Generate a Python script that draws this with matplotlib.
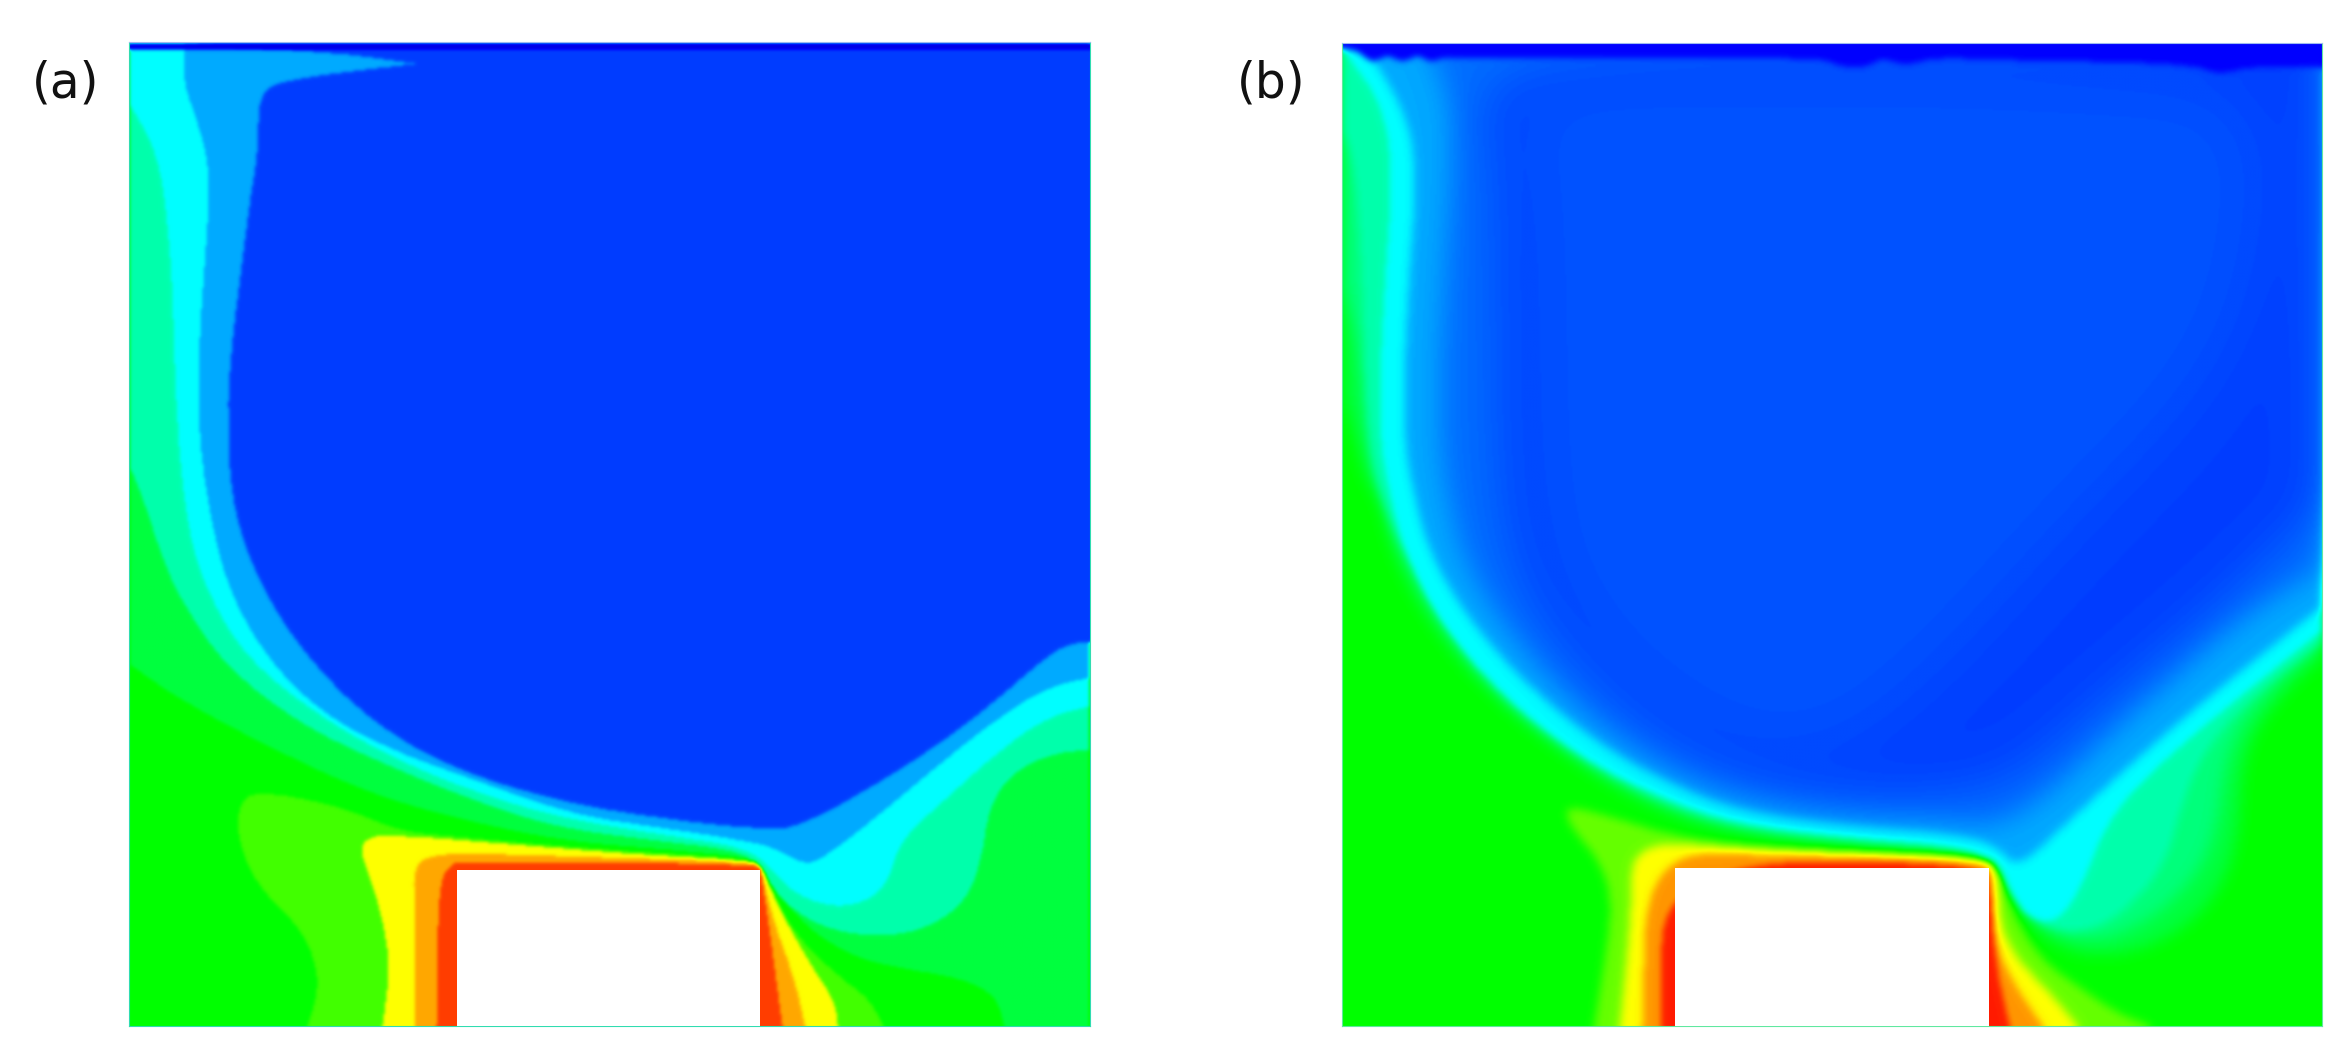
"""Two contour panels (a) and (b), flow past a block in a cavity"""
import matplotlib
matplotlib.use('Agg')
import matplotlib.pyplot as plt
from matplotlib.colors import LinearSegmentedColormap, Normalize
from matplotlib.patches import Rectangle
from matplotlib.path import Path
import numpy as np

WIDTH, HEIGHT = 2347, 1055

# contour outlines, x/y as in the image (y down)
A_XLIM = (86, 727)
A_YLIM = (684, 28)
A_BLOCK = (305, 507, 580)
A_BASE = 0.5
A_SPRING = [(86, 443), (120, 467), (175, 496), (240, 527), (300, 545), (375, 561), (450, 567),
            (500, 572), (515, 583), (530, 612), (565, 637), (600, 646), (640, 652), (665, 664),
            (670, 684), (727, 684), (727, 28), (86, 28)]
A_AQUA = [(86, 311), (95, 332), (107, 370), (120, 400), (150, 445), (200, 483), (250, 507),
          (310, 532), (370, 552), (440, 561), (490, 567), (507, 576), (515, 592), (530, 608),
          (555, 621), (590, 625), (620, 619), (645, 601), (655, 574), (660, 538), (675, 516),
          (700, 503), (727, 500), (727, 28), (86, 28)]
A_CYAN = [(86, 69), (105, 102), (112, 153), (115, 204), (117, 281), (125, 357), (140, 400),
          (165, 440), (210, 476), (260, 505), (320, 530), (380, 547), (450, 558), (495, 565),
          (512, 576), (525, 592), (545, 603), (570, 605), (592, 592), (600, 561), (630, 534),
          (670, 498), (700, 478), (727, 471), (727, 28), (86, 28)]
A_LIGHT = [(122, 28), (122, 56), (132, 82), (140, 115), (137, 166), (132, 230), (132, 293),
           (142, 357), (155, 400), (180, 442), (215, 476), (260, 500), (310, 518), (380, 543),
           (440, 552), (500, 561), (520, 567), (537, 577), (550, 572), (585, 545), (630, 507),
           (670, 476), (700, 458), (727, 452), (727, 28)]
A_BLUE = [(727, 428), (710, 430), (690, 445), (665, 467), (625, 498), (570, 532), (535, 550),
          (515, 554), (440, 546), (370, 534), (300, 512), (250, 483), (210, 445), (178, 400),
          (155, 344), (151, 280), (154, 230), (160, 184), (167, 128), (172, 100), (172, 64),
          (185, 53), (277, 42), (277, 42), (220, 34), (150, 31), (122, 28), (727, 28)]
A_TOP = [(86, 28), (727, 28), (727, 32), (86, 32)]
A_LIME = [(205, 684), (212, 661), (210, 641), (200, 619), (170, 590), (157, 556), (160, 534),
          (172, 528), (210, 534), (240, 543), (265, 554), (300, 558), (400, 567), (500, 573),
          (507, 577), (512, 590), (530, 623), (560, 652), (580, 666), (589, 684)]
A_YELLOW = [(255, 684), (260, 646), (255, 612), (245, 581), (240, 567), (245, 558), (265, 557),
            (350, 564), (425, 570), (500, 574), (509, 579), (515, 596), (530, 625), (545, 650),
            (557, 668), (559, 684)]
A_ORANGE = [(277, 684), (276, 601), (276, 579), (285, 571), (310, 569), (400, 572), (500, 575),
            (508, 579), (515, 612), (530, 652), (537, 684)]
A_RED = [(291, 684), (292, 590), (300, 577), (305, 575), (400, 575), (505, 577), (508, 580),
         (522, 684)]
# value, outline, softness of the edge
A_LAYERS = [(0.4375, A_SPRING, 1), (0.33, A_AQUA, 1), (0.25, A_CYAN, 1), (0.167, A_LIGHT, 1),
            (0.0625, A_BLUE, 1), (-0.04, A_TOP, 1), (0.5625, A_LIME, 1), (0.75, A_YELLOW, 1),
            (0.833, A_ORANGE, 1), (0.9375, A_RED, 1)]

B_XLIM = (895, 1548)
B_YLIM = (684, 29)
B_BLOCK = (1117, 1326, 579)
B_BASE = 0.5
B_EDGE = [(895, 265), (903, 290), (910, 320), (920, 333), (928, 369), (953, 416), (993, 463),
          (1043, 503), (1093, 534), (1143, 552), (1223, 561), (1303, 567), (1326, 572),
          (1338, 590), (1358, 623), (1388, 638), (1428, 635), (1468, 612), (1493, 569),
          (1495, 498), (1528, 456), (1548, 440), (1548, 28), (895, 28)]
B_MINT = [(895, 190), (906, 230), (913, 300), (925, 335), (936, 369), (961, 416), (1000, 463),
          (1050, 503), (1100, 532), (1150, 550), (1228, 559), (1306, 565), (1328, 573),
          (1340, 592), (1362, 617), (1390, 628), (1420, 622), (1455, 597), (1478, 560),
          (1484, 500), (1510, 462), (1548, 428), (1548, 28), (895, 28)]
B_AQUA = [(895, 85), (903, 110), (908, 180), (910, 260), (914, 310), (924, 340), (936, 369),
          (961, 416), (1001, 465), (1052, 505), (1103, 533), (1155, 551), (1230, 560),
          (1308, 566), (1330, 577), (1345, 604), (1365, 620), (1392, 622), (1420, 606),
          (1445, 575), (1455, 535), (1470, 500), (1500, 466), (1548, 428), (1548, 28), (895, 28)]
B_RIDGE = [(895, 32), (903, 44), (920, 67), (929, 111), (922, 200), (919, 289), (927, 333),
           (937, 369), (962, 418), (1003, 465), (1054, 505), (1105, 531), (1157, 549),
           (1233, 558), (1308, 564), (1328, 574), (1340, 592), (1352, 612), (1372, 616),
           (1388, 592), (1405, 548), (1433, 516), (1483, 473), (1548, 421), (1548, 28), (895, 28)]
B_LIGHT = [(908, 28), (935, 70), (945, 111), (938, 200), (935, 289), (943, 333), (953, 369),
           (978, 412), (1017, 456), (1065, 495), (1113, 522), (1162, 541), (1235, 550),
           (1308, 556), (1332, 565), (1345, 580), (1375, 552), (1425, 506), (1475, 463),
           (1548, 405), (1548, 28)]
B_PALE = [(950, 28), (968, 70), (968, 111), (961, 200), (958, 289), (966, 340), (976, 375),
          (1000, 415), (1040, 460), (1085, 497), (1135, 522), (1185, 535), (1240, 543),
          (1290, 545), (1330, 553), (1365, 530), (1405, 490), (1455, 445), (1495, 410),
          (1548, 380), (1548, 28)]
B_DEEP = [(985, 38), (1000, 100), (1000, 300), (1010, 380), (1050, 440), (1105, 490),
          (1165, 520), (1240, 532), (1300, 530), (1345, 520), (1400, 470), (1460, 420),
          (1515, 370), (1548, 335), (1548, 28)]
B_CORE = [(1000, 48), (1015, 100), (1020, 200), (1020, 300), (1030, 380), (1070, 440),
          (1120, 480), (1170, 505), (1230, 500), (1300, 440), (1380, 350), (1470, 260),
          (1505, 180), (1510, 60), (1400, 50), (1250, 45)]
B_TOP = [(895, 28), (1548, 28), (1548, 45), (1500, 44), (1480, 50), (1460, 42), (1330, 40),
         (1290, 38), (1270, 44), (1255, 38), (1245, 45), (1225, 44), (1215, 38), (1000, 38),
         (960, 38), (955, 42), (945, 36), (935, 42), (925, 36), (915, 42), (905, 34), (895, 32)]
B_LIME = [(1043, 539), (1055, 539), (1133, 563), (1233, 569), (1323, 572), (1333, 581),
          (1340, 605), (1360, 640), (1390, 661), (1410, 675), (1433, 684), (1063, 684),
          (1068, 652), (1075, 605), (1068, 576), (1048, 553)]
B_YELLOW = [(1080, 684), (1088, 605), (1088, 561), (1158, 566), (1233, 570), (1323, 573),
            (1333, 583), (1333, 616), (1345, 640), (1365, 660), (1385, 684)]
B_ORANGE = [(1095, 684), (1098, 569), (1183, 570), (1323, 574), (1329, 583), (1330, 628),
            (1342, 655), (1362, 684)]
B_RED = [(1108, 684), (1108, 575), (1323, 575), (1327, 593), (1330, 640), (1340, 684)]
B_LAYERS = [(0.44, B_EDGE, 5), (0.38, B_MINT, 5), (0.33, B_AQUA, 3), (0.25, B_RIDGE, 2),
            (0.167, B_LIGHT, 3), (0.11, B_PALE, 9), (0.0625, B_DEEP, 16), (0.083, B_CORE, 22),
            (0.0, B_TOP, 2), (0.6, B_LIME, 3), (0.75, B_YELLOW, 3), (0.85, B_ORANGE, 2.5),
            (0.97, B_RED, 2)]

LABELS = ['(a)', '(b)']


def blur(field, sigma):
    size = int(3 * sigma) + 1
    offset = np.arange(-size, size + 1)
    kernel = np.exp(-0.5 * (offset / sigma) ** 2)
    kernel /= kernel.sum()
    for axis in (0, 1):
        pad = [(size, size) if i == axis else (0, 0) for i in (0, 1)]
        padded = np.pad(field, pad, mode='edge')
        field = np.apply_along_axis(np.convolve, axis, padded, kernel, mode='valid')
    return field


def smooth_outline(outline, xlim, ylim):
    # rounded quadratic path; points on the panel edge stay as sharp corners
    pts = []
    for x, y in outline:
        pts.append((x, y))
        if x in xlim or y in ylim or y == 28:
            pts.append((x, y))
    pts = np.array(pts, dtype=float)
    mids = (pts + np.roll(pts, -1, axis=0)) / 2
    verts = [mids[-1]]
    codes = [Path.MOVETO]
    for ctrl, mid in zip(pts, mids):
        verts += [ctrl, mid]
        codes += [Path.CURVE3, Path.CURVE3]
    return Path(np.array(verts), codes)


def build_field(xlim, ylim, base, layers):
    xs = np.arange(xlim[0], xlim[1] + 1)
    ys = np.arange(ylim[1], ylim[0] + 1)
    X, Y = np.meshgrid(xs, ys)
    pts = np.column_stack([X.ravel(), Y.ravel()])
    field = np.full(X.shape, base, dtype=float)
    for value, outline, sigma in layers:
        mask = smooth_outline(outline, xlim, ylim).contains_points(pts).reshape(X.shape)
        mask = blur(mask.astype(float), sigma)
        field = field * (1 - mask) + value * mask
    return field


def draw_panel(fig, box, xlim, ylim, base, layers, block, edge):
    left, top, right, bottom = box
    ax = fig.add_axes([left / WIDTH, 1 - bottom / HEIGHT, (right - left) / WIDTH, (bottom - top) / HEIGHT])
    field = build_field(xlim, ylim, base, layers)
    ax.imshow(field, cmap=CMAP, norm=Normalize(-0.1, 1), interpolation='bicubic',
              extent=(xlim[0], xlim[1], ylim[0], ylim[1]), aspect='auto')
    ax.add_patch(Rectangle((block[0], block[2]), block[1] - block[0], ylim[0] - block[2],
                           facecolor='white', edgecolor='none', zorder=3))
    ax.set_xlim(xlim)
    ax.set_ylim(ylim)
    ax.set_xticks([])
    ax.set_yticks([])
    for name, spine in ax.spines.items():
        spine.set_linewidth(0.8)
        spine.set_color(edge if name != 'top' else '#9db8f0')
    return ax


CMAP = LinearSegmentedColormap.from_list('fluent', [
    (0.0, '#0000b8'), (0.1 / 1.1, '#0000ff'), (0.35 / 1.1, '#00ffff'),
    (0.6 / 1.1, '#00ff00'), (0.85 / 1.1, '#ffff00'), (1.0, '#ff0000')])

fig = plt.figure(figsize=(WIDTH / 100, HEIGHT / 100), dpi=100, facecolor='white')
draw_panel(fig, (129, 42, 1090, 1026), A_XLIM, A_YLIM, A_BASE, A_LAYERS, A_BLOCK, '#30dcb0')
draw_panel(fig, (1342, 43, 2322, 1026), B_XLIM, B_YLIM, B_BASE, B_LAYERS, B_BLOCK, '#60e8a0')

fig.text(66 / WIDTH, 1 - 83 / HEIGHT, LABELS[0], family='DejaVu Sans', fontsize=35,
         ha='center', va='center', color='#111111')
fig.text(1271 / WIDTH, 1 - 83 / HEIGHT, LABELS[1], family='DejaVu Sans', fontsize=35,
         ha='center', va='center', color='#111111')

fig.savefig('out.png', dpi=100, facecolor='white')
